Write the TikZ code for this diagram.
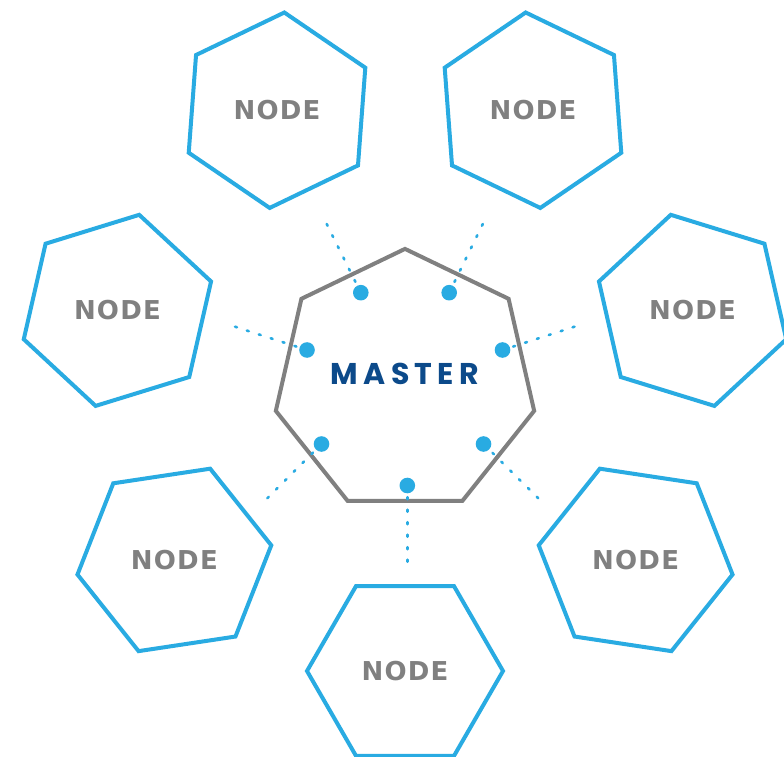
\documentclass[tikz,border=0pt]{standalone}
\usepackage{fontspec}
\usetikzlibrary{calc}
\newfontfamily\nodefont{DejaVu Sans}
\newfontfamily\masterfont{Poppins}
\definecolor{hexblue}{RGB}{41,171,226}
\definecolor{heptgray}{RGB}{128,128,128}
\definecolor{masterblue}{RGB}{12,74,138}
\definecolor{textgray}{RGB}{128,128,128}
\newcommand{\nodetext}{N\kern1.2pt O\kern1.2pt D\kern1.2pt E}
\newcommand{\mastertext}{M\kern5.3pt A\kern5.3pt S\kern5.3pt T\kern5.3pt E\kern5.3pt R}
\begin{document}
\begin{tikzpicture}[x=1pt,y=1pt,
  hexline/.style={draw=hexblue,line width=4pt,line join=miter},
  heptline/.style={draw=heptgray,line width=4pt,line join=miter},
  nodelabel/.style={font=\nodefont\bfseries\fontsize{26}{26}\selectfont, text=textgray, inner sep=0pt},
  masterlabel/.style={font=\masterfont\bfseries\fontsize{30}{30}\selectfont, text=masterblue, inner sep=0pt},
  port/.style={circle, fill=hexblue, minimum size=15.6pt, inner sep=0pt},
  link/.style={draw=hexblue, line width=2.6pt, line cap=round, dash pattern=on 2pt off 10.5pt},
]
\useasboundingbox (0,0) rectangle (784,756);
\fill[white] (0,0) rectangle (784,756);
\coordinate (C) at (405,380);
\coordinate (H) at (405,374.6);
% master heptagon
\draw[heptline] ($(H)+(90:132.5)$)
  \foreach \j in {1,...,6}{ -- ($(H)+(90+360/7*\j:132.5)$) } -- cycle;
\node[masterlabel] (master) at (405,381.8) {\mastertext};
% worker hexagons
\foreach \k in {0,...,6}{
  \pgfmathsetmacro\t{-90+360/7*\k}
  \node[nodelabel] (n\k) at ($(C)+(\t:295)$) {\nodetext};
  \draw[hexline] ($(n\k.center)+(\t+30:98)$)
    \foreach \j in {1,...,5}{ -- ($(n\k.center)+(\t+30+60*\j:98)$) } -- cycle;
}
% dotted links (drawn first) and ports on top
\coordinate (eB)  at (407.3,194.3);
\coordinate (eBR) at (538.3,257.7);
\coordinate (eR)  at (574.5,429.3);
\coordinate (eTR) at (482.8,532);
\coordinate (eTL) at (326.7,532);
\coordinate (eL)  at (235.0,429.3);
\coordinate (eBL) at (267.3,257.7);
\coordinate (cB)  at (407.3,270.5);
\coordinate (cBR) at (483.5,312);
\coordinate (cR)  at (502.5,406);
\coordinate (cTR) at (449.2,463.3);
\coordinate (cTL) at (360.8,463.3);
\coordinate (cL)  at (307.0,406);
\coordinate (cBL) at (321.5,312);
\foreach \p in {B,BR,R,TR,TL,L,BL}{
  \draw[link] (e\p) -- (c\p);
}
\foreach \p in {B,BR,R,TR,TL,L,BL}{
  \node[port] (p\p) at (c\p) {};
}
\end{tikzpicture}
\end{document}
